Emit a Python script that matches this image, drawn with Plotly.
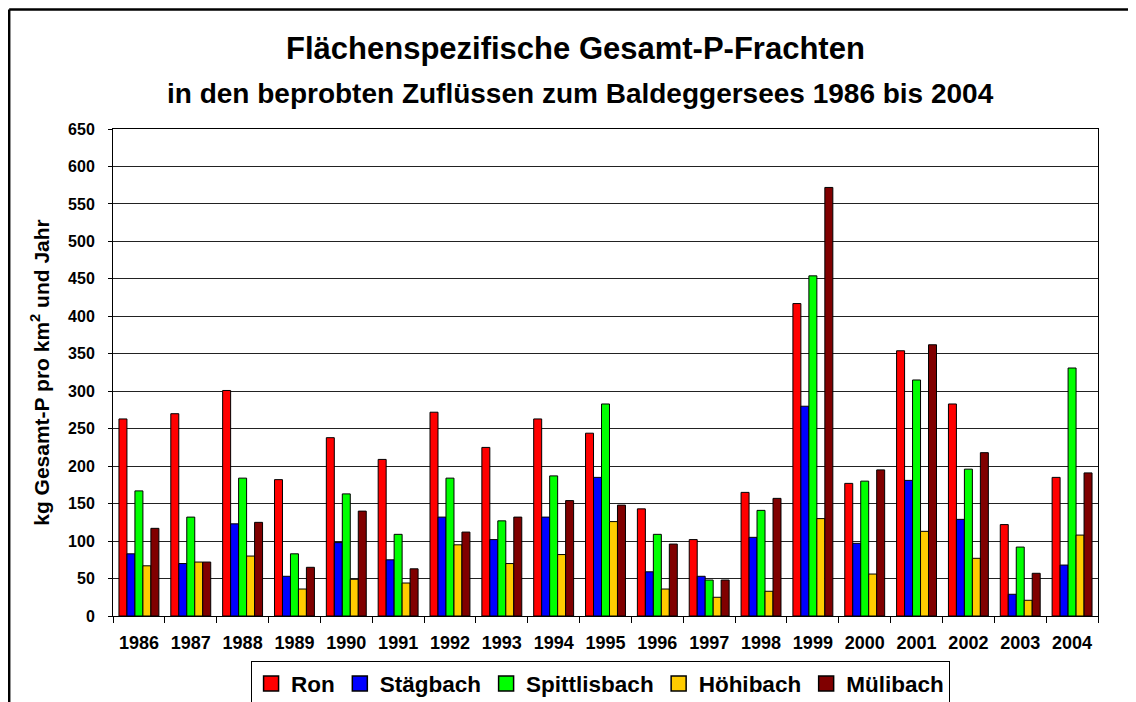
import plotly.graph_objects as go

years = ["1986", "1987", "1988", "1989", "1990", "1991", "1992", "1993", "1994", "1995",
         "1996", "1997", "1998", "1999", "2000", "2001", "2002", "2003", "2004"]

ron = [263, 270, 301, 182, 238, 209, 272, 225, 263, 244, 143, 102, 165, 417, 177, 354, 283, 122, 185]
staegbach = [83, 70, 123, 53, 98, 75, 132, 102, 132, 185, 59, 53, 105, 280, 97, 181, 129, 29, 68]
spittlisbach = [167, 132, 184, 83, 163, 109, 184, 127, 187, 283, 109, 48, 141, 454, 180, 315, 196, 92, 331]
hoehibach = [67, 72, 80, 36, 49, 44, 95, 70, 82, 126, 36, 25, 33, 130, 56, 113, 77, 21, 108]
muelibach = [117, 72, 125, 65, 140, 63, 112, 132, 154, 148, 96, 48, 157, 572, 195, 362, 218, 57, 191]

series = [
    ("Ron", ron, "#FF0000"),
    ("Stägbach", staegbach, "#0000FF"),
    ("Spittlisbach", spittlisbach, "#00FF00"),
    ("Höhibach", hoehibach, "#FFCC00"),
    ("Mülibach", muelibach, "#800000"),
]

fig = go.Figure()
for name, vals, col in series:
    fig.add_trace(go.Bar(x=years, y=vals, name=name, showlegend=False, legendgroup=name,
                         marker=dict(color=col, line=dict(color="black", width=1))))
# legend entries with larger square symbols (no data drawn)
for name, vals, col in series:
    fig.add_trace(go.Scatter(x=[None], y=[None], mode="markers", name=name, legendgroup=name,
                             marker=dict(symbol="square", size=15, color=col,
                                         line=dict(color="black", width=1.5))))

font_family = "Liberation Sans, Arial, sans-serif"

fig.update_layout(
    width=1136, height=702,
    margin=dict(l=105, r=46, t=121, b=94, autoexpand=False),
    paper_bgcolor="white", plot_bgcolor="white",
    barmode="group", bargap=0.23, bargroupgap=0,
    font=dict(family=font_family, color="black"),
    showlegend=True,
    legend=dict(orientation="h", x=0.495, xanchor="center", y=-0.093, yanchor="top",
                bordercolor="black", borderwidth=1, itemsizing="trace",
                font=dict(size=22.5, family=font_family, color="black", weight="bold"),
                itemwidth=30, tracegroupgap=0),
    xaxis=dict(type="category", showline=True, linecolor="black", linewidth=1, mirror=True,
               ticks="outside", tickson="boundaries", ticklen=6, tickcolor="black",
               ticklabelstandoff=10,
               tickfont=dict(size=18, weight="bold"), showgrid=False),
    yaxis=dict(range=[0, 650], dtick=50, showline=True, linecolor="black", linewidth=1, mirror=True,
               ticks="outside", ticklen=4, tickcolor="black", ticklabelstandoff=10,
               showgrid=True, gridcolor="#222222", gridwidth=1,
               tickfont=dict(size=16, weight="bold"),
               title=dict(text="kg Gesamt-P pro km<sup>2</sup> und Jahr",
                          font=dict(size=21, weight="bold"), standoff=12)),
    annotations=[
        dict(text="<b>Flächenspezifische Gesamt-P-Frachten</b>", xref="paper", yref="paper",
             x=0.470, y=1.1663, xanchor="center", yanchor="middle", showarrow=False,
             font=dict(size=31, family=font_family)),
        dict(text="<b>in den beprobten Zuflüssen zum Baldeggersees 1986 bis 2004</b>", xref="paper", yref="paper",
             x=0.475, y=1.0739, xanchor="center", yanchor="middle", showarrow=False,
             font=dict(size=28, family=font_family)),
    ],
    shapes=[
        dict(type="line", xref="paper", yref="paper", x0=-0.1054, x1=1.06, y0=1.2454, y1=1.2454,
             line=dict(color="black", width=2.5)),
        dict(type="line", xref="paper", yref="paper", x0=-0.1054, x1=-0.1054, y0=1.2454, y1=-0.2,
             line=dict(color="black", width=2.5)),
    ],
)

fig.write_html("out.html")
